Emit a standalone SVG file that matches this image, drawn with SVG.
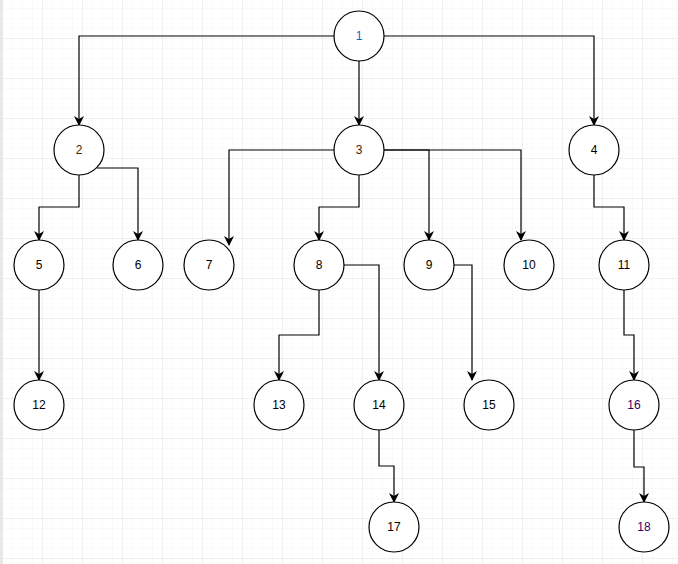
<svg xmlns="http://www.w3.org/2000/svg" width="678" height="564" viewBox="0 0 678 564">
<defs>
<pattern id="mi" width="10" height="10" patternUnits="userSpaceOnUse" x="3" y="-1"><path d="M10 0V10M0 10H10" fill="none" stroke="#f3f3f3" stroke-width="1"/></pattern>
<pattern id="ma" width="40" height="40" patternUnits="userSpaceOnUse" x="3" y="-1"><path d="M40 0V40M0 40H40" fill="none" stroke="#e6e6e6" stroke-width="1"/></pattern>
<marker id="ar" viewBox="0 0 10 10" refX="9" refY="5" markerWidth="10" markerHeight="10" orient="auto" markerUnits="userSpaceOnUse"><path d="M0 0L10 5L0 10L3 5Z" fill="#000"/></marker>
</defs>
<style>
.n circle{fill:#fff;stroke:#000;stroke-width:1.2}
.n text{font-family:"Liberation Sans",Arial,sans-serif;font-size:12px;text-anchor:middle;dominant-baseline:central;fill:#000}
#edges path{fill:none;stroke:#000;stroke-width:1.2;marker-end:url(#ar)}
</style>
<rect width="678" height="564" fill="#fff"/>
<rect width="678" height="564" fill="url(#mi)"/>
<rect width="678" height="564" fill="url(#ma)"/>
<rect x="0" y="0" width="3" height="564" fill="#e8e8e8"/>
<g id="edges">
<path d="M334 36H79V125"/>
<path d="M359 61V125"/>
<path d="M384 36H594V125"/>
<path d="M79 175V207H39V240"/>
<path d="M97 168H138V240"/>
<path d="M334 150H229V245"/>
<path d="M359 175V207H319V240"/>
<path d="M384 150H429V240"/>
<path d="M384 150H521V240"/>
<path d="M594 175V207H624V240"/>
<path d="M39 290V380"/>
<path d="M319 290V335H279V380"/>
<path d="M344 265H379V380"/>
<path d="M454 265H472V380"/>
<path d="M624 290V335H634V380"/>
<path d="M379 430V466H394V502"/>
<path d="M634 430V467H644V502"/>
</g>
<g id="n1" class="n"><circle cx="359" cy="36" r="25"/><text x="359" y="36" style="fill:#0070c0">1</text></g>
<g id="n2" class="n"><circle cx="79" cy="150" r="25"/><text x="79" y="150" style="fill:#4d2600">2</text></g>
<g id="n3" class="n"><circle cx="359" cy="150" r="25"/><text x="359" y="150" style="fill:#4d1a00">3</text></g>
<g id="n4" class="n"><circle cx="594" cy="150" r="25"/><text x="594" y="150">4</text></g>
<g id="n5" class="n"><circle cx="39" cy="265" r="25"/><text x="39" y="265">5</text></g>
<g id="n6" class="n"><circle cx="138" cy="265" r="25"/><text x="138" y="265">6</text></g>
<g id="n7" class="n"><circle cx="209" cy="265" r="25"/><text x="209" y="265">7</text></g>
<g id="n8" class="n"><circle cx="319" cy="265" r="25"/><text x="319" y="265">8</text></g>
<g id="n9" class="n"><circle cx="429" cy="265" r="25"/><text x="429" y="265">9</text></g>
<g id="n10" class="n"><circle cx="529" cy="265" r="25"/><text x="529" y="265">10</text></g>
<g id="n11" class="n"><circle cx="624" cy="265" r="25"/><text x="624" y="265">11</text></g>
<g id="n12" class="n"><circle cx="39" cy="405" r="25"/><text x="39" y="405">12</text></g>
<g id="n13" class="n"><circle cx="279" cy="405" r="25"/><text x="279" y="405">13</text></g>
<g id="n14" class="n"><circle cx="379" cy="405" r="25"/><text x="379" y="405">14</text></g>
<g id="n15" class="n"><circle cx="489" cy="405" r="25"/><text x="489" y="405">15</text></g>
<g id="n16" class="n"><circle cx="634" cy="405" r="25"/><text x="634" y="405" style="fill:#330066">16</text></g>
<g id="n17" class="n"><circle cx="394" cy="527" r="25"/><text x="394" y="527">17</text></g>
<g id="n18" class="n"><circle cx="644" cy="527" r="25"/><text x="644" y="527" style="fill:#330066">18</text></g>
</svg>
